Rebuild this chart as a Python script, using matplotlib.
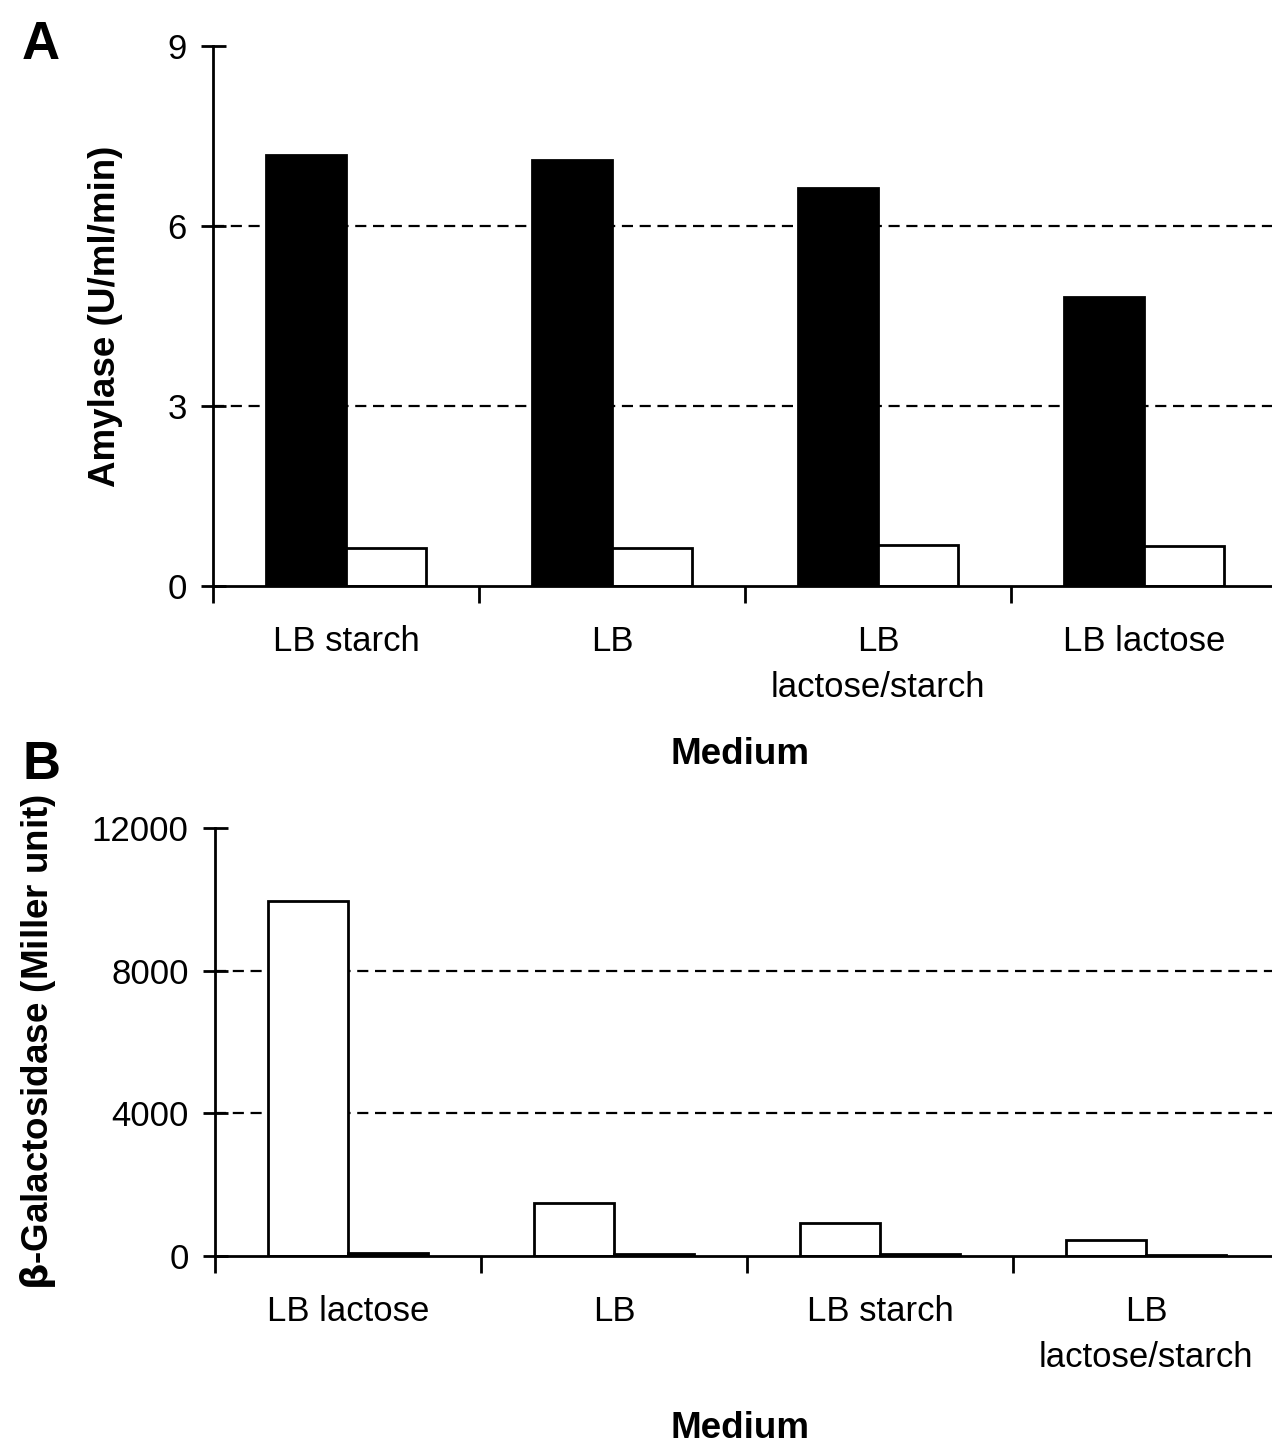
import numpy as np
import matplotlib
matplotlib.use('Agg')
import matplotlib.pyplot as plt

plt.rcParams['font.family'] = ['Liberation Sans', 'DejaVu Sans']

# Panel A: amylase activity
categories_a = ['LB starch', 'LB', 'LB\nlactose/starch', 'LB lactose']
amylase_black = [7.18, 7.10, 6.63, 4.82]
amylase_white = [0.63, 0.63, 0.68, 0.67]
yticks_a = [0, 3, 6, 9]

# Panel B: beta-galactosidase activity
categories_b = ['LB lactose', 'LB', 'LB starch', 'LB\nlactose/starch']
galacto_white = [9950, 1490, 925, 450]
galacto_second = [90, 70, 60, 20]
yticks_b = [0, 4000, 8000, 12000]

W, H = 1272, 1447
fig = plt.figure(figsize=(W / 100, H / 100), dpi=100)


def style_axes(ax, cats, yticks, grid_vals, ylabel, ylabel_xy):
    n = len(cats)
    ax.set_xlim(0, n)
    ax.set_ylim(yticks[0], yticks[-1])
    for g in grid_vals:
        ax.axhline(g, color='black', lw=1.6, ls=(0, (5, 3)), zorder=0)
    for s in ['top', 'right']:
        ax.spines[s].set_visible(False)
    ax.spines['left'].set_linewidth(2)
    ax.spines['bottom'].set_linewidth(2)
    ax.set_yticks(yticks)
    ax.tick_params(axis='y', direction='inout', length=18, width=2,
                   labelsize=25, pad=10)
    # boundary ticks (unlabelled) and centred category labels
    ax.set_xticks(np.arange(0, n + 1))
    ax.set_xticklabels([])
    ax.tick_params(axis='x', which='major', direction='out', length=12, width=2)
    ax.set_xticks(np.arange(n) + 0.5, minor=True)
    ax.set_xticklabels(cats, minor=True, fontsize=25, linespacing=1.5)
    ax.tick_params(axis='x', which='minor', length=0, pad=28)
    ax.yaxis.set_label_coords(*ylabel_xy)
    ax.set_ylabel(ylabel, fontsize=26.5, fontweight='bold')


bw = 0.3
# Panel A
axA = fig.add_axes([213 / W, 1 - 586 / H, 1064 / W, 540 / H])
x = np.arange(len(categories_a)) + 0.5
axA.bar(x - bw / 2, amylase_black, bw, color='black', edgecolor='black', lw=2, zorder=2)
axA.bar(x + bw / 2, amylase_white, bw, color='white', edgecolor='black', lw=2, zorder=2)
style_axes(axA, categories_a, yticks_a, [3, 6], 'Amylase (U/ml/min)', (-0.085, 0.478))

# Panel B
axB = fig.add_axes([215 / W, 1 - 1256 / H, 1064 / W, 428 / H])
x = np.arange(len(categories_b)) + 0.5
axB.bar(x - bw / 2, galacto_white, bw, color='white', edgecolor='black', lw=2, zorder=2)
axB.bar(x + bw / 2, galacto_second, bw, color='black', edgecolor='black', lw=2, zorder=2)
style_axes(axB, categories_b, yticks_b, [4000, 8000],
           r'$\mathbf{\beta}$-Galactosidase (Miller unit)', (-0.148, 0.49))

fig.text(740 / W, 1 - 755 / H, 'Medium', fontsize=26.5, fontweight='bold', ha='center', va='center')
fig.text(740 / W, 1 - 1428 / H, 'Medium', fontsize=26.5, fontweight='bold', ha='center', va='center')
fig.text(22 / W, 1 - 45 / H, 'A', fontsize=38, fontweight='bold', ha='left', va='center')
fig.text(22 / W, 1 - 765 / H, 'B', fontsize=38, fontweight='bold', ha='left', va='center')

fig.savefig('out.png', dpi=100)
